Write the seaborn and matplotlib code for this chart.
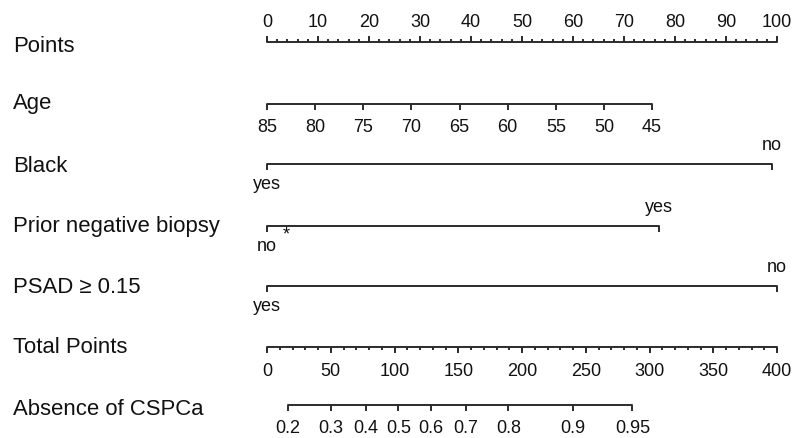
import numpy as np
import pandas as pd
import matplotlib
matplotlib.use("Agg")
import matplotlib.pyplot as plt
import seaborn as sns

# ---------------- data ----------------
row_labels = ["Points", "Age", "Black", "Prior negative biopsy",
              "PSAD \u2265 0.15", "Total Points", "Absence of CSPCa"]

points_major = [0, 10, 20, 30, 40, 50, 60, 70, 80, 90, 100]
points_minor = list(range(0, 101, 2))

age_values = [85, 80, 75, 70, 65, 60, 55, 50, 45]
age_points = [0, 9.44, 18.88, 28.31, 37.75, 47.19, 56.63, 66.06, 75.5]

black_levels = ["yes", "no"]
black_points = [0, 99.0]

prior_levels = ["no", "yes"]
prior_points = [0, 76.8]

psad_levels = ["yes", "no"]
psad_points = [0, 100.0]

total_major = [0, 50, 100, 150, 200, 250, 300, 350, 400]
total_minor = list(range(0, 401, 10))

prob_labels = ["0.2", "0.3", "0.4", "0.5", "0.6", "0.7", "0.8", "0.9", "0.95"]
prob_total = [16.6, 50.2, 77.7, 103.0, 128.3, 155.8, 189.4, 240.0, 286.6]

# ---------------- layout ----------------
W, H = 793, 438
X0, PXPT = 267.0, 5.1          # pixel of 0 points, pixels per point
TOT_SCALE = 100.0 / 400.0       # total points -> points axis

line_y = [42, 104, 164, 226, 286, 347, 405]
label_base = [52, 109, 172, 232, 293, 353, 415]

def px2pt(px):
    return (px - X0) / PXPT

sns.set_theme(style="white")
plt.rcParams["font.family"] = ["Liberation Sans", "DejaVu Sans"]

LC = "#2b2b2b"
LW = 1.4
TICK_FS = 13.0
ROW_FS = 15.9

fig = plt.figure(figsize=(W / 100, H / 100), dpi=100)
ax = fig.add_axes([0, 0, 1, 1])

# main horizontal scale lines through seaborn
segs = []
spans = [
    (0, 100),
    (age_points[0], age_points[-1]),
    (black_points[0], black_points[-1]),
    (prior_points[0], prior_points[-1]),
    (psad_points[0], psad_points[-1]),
    (total_major[0] * TOT_SCALE, total_major[-1] * TOT_SCALE),
    (prob_total[0] * TOT_SCALE, prob_total[-1] * TOT_SCALE),
]
for i, (a, b) in enumerate(spans):
    segs.append({"x": a, "y": line_y[i], "seg": i})
    segs.append({"x": b, "y": line_y[i], "seg": i})
df = pd.DataFrame(segs)
sns.lineplot(data=df, x="x", y="y", units="seg", estimator=None, sort=False,
             color=LC, lw=LW, legend=False, ax=ax)

def ticks(xs, y, length, up=False):
    if up:
        ax.vlines(xs, y - length, y, color=LC, lw=LW)
    else:
        ax.vlines(xs, y, y + length, color=LC, lw=LW)

def lab(x, y, s, fs=TICK_FS, ha="center"):
    ax.text(x, y, s, fontsize=fs, ha=ha, va="baseline", color="#111111")

# Points
y = line_y[0]
ticks(points_minor, y, 3, up=True)
ticks(points_major, y, 6, up=True)
for v in points_major:
    lab(v, y - 15, str(v))

# Age
y = line_y[1]
ticks(age_points, y, 6)
for v, p in zip(age_values, age_points):
    lab(p, y + 28, str(v))

# binary rows
for row, levels, pts in [(2, black_levels, black_points),
                         (3, prior_levels, prior_points),
                         (4, psad_levels, psad_points)]:
    y = line_y[row]
    ticks(pts, y, 6)
    lab(pts[0], y + 25, levels[0])
    lab(pts[1], y - 14, levels[1])

# asterisk near Prior negative biopsy "no"
ax.text(px2pt(286.5), line_y[3] + 13, "*", fontsize=13, ha="center",
        va="baseline", color="#111111")

# Total points
y = line_y[5]
ticks([t * TOT_SCALE for t in total_minor], y, 3)
ticks([t * TOT_SCALE for t in total_major], y, 6)
for v in total_major:
    lab(v * TOT_SCALE, y + 29, str(v))

# Absence of CSPCa
y = line_y[6]
pp = [t * TOT_SCALE for t in prob_total]
ticks(pp, y, 6)
for s, p in zip(prob_labels, pp):
    lab(p, y + 28, s)

# row labels
for s, b in zip(row_labels, label_base):
    lab(px2pt(13), b, s, fs=ROW_FS, ha="left")

ax.set_xlim(px2pt(0), px2pt(W))
ax.set_ylim(H, 0)
ax.axis("off")
fig.savefig("out.png", dpi=100, facecolor="white")
